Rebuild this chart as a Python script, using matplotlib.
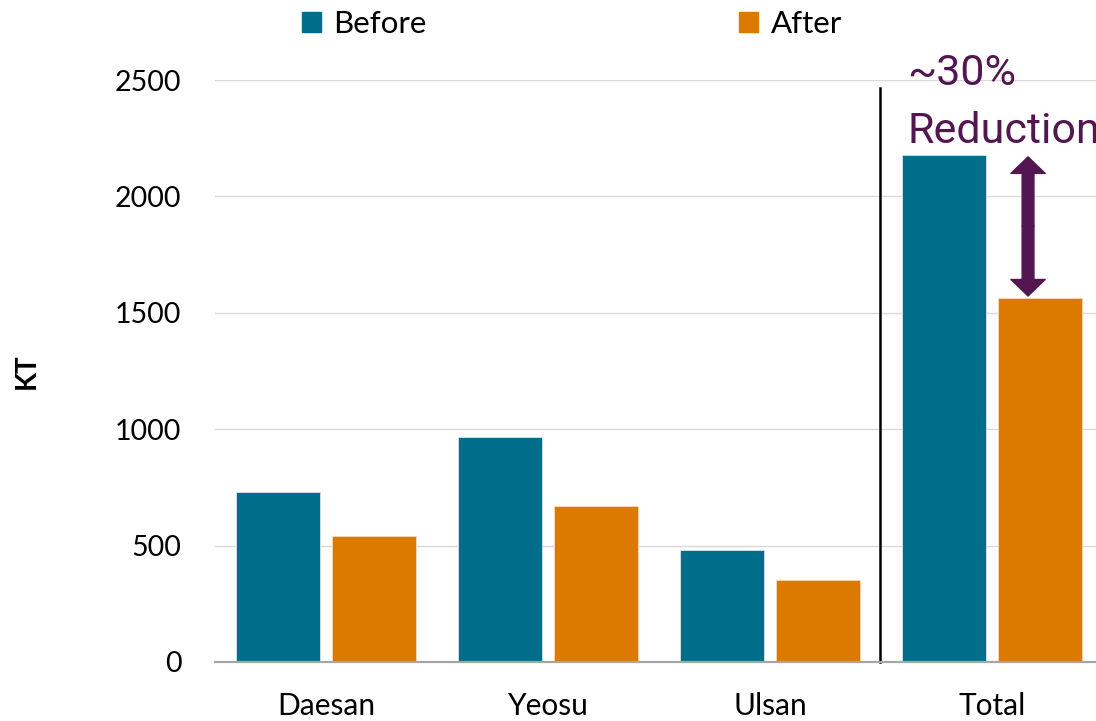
import numpy as np
import matplotlib.pyplot as plt
from matplotlib.patches import FancyArrowPatch, Patch

sites = ['Daesan', 'Yeosu', 'Ulsan', 'Total']
before = [730, 966, 480, 2178]
after = [541, 670, 351, 1564]

teal = '#006E8A'
orange = '#DC7A00'
purple = '#531651'

plt.rcParams['font.family'] = ['Lato', 'DejaVu Sans']

fig = plt.figure(figsize=(10.96, 7.21), dpi=100)
ax = fig.add_axes([0.196, 0.082, 0.804, 0.807])

x = np.arange(len(sites))
w = 0.378
off = 0.216
ax.bar(x - off, before, w, color=teal, edgecolor='#d6e6ea', linewidth=0.6, zorder=3)
ax.bar(x + off, after, w, color=orange, edgecolor='#f5d9b8', linewidth=0.6, zorder=3)

ax.set_xlim(-0.5, 3.468)
ax.set_ylim(0, 2500)
ax.set_yticks(np.arange(0, 2501, 500))
ax.set_xticks(x)
ax.set_xticklabels(sites, fontsize=21.5)
ax.tick_params(axis='y', labelsize=20.5, length=0, pad=24)
ax.tick_params(axis='x', length=0, pad=22)
ax.grid(axis='y', color='#d9d9d9', linewidth=1, zorder=0)
for s in ['top', 'right', 'left']:
    ax.spines[s].set_visible(False)
ax.spines['bottom'].set_color('#a6a6a6')
ax.spines['bottom'].set_linewidth(1.6)
ax.spines['bottom'].set_zorder(4)
ax.set_ylabel('KT', fontsize=20, fontweight='bold', labelpad=54)

# separator between the sites and the total
ax.plot([2.495, 2.495], [0, 2466], color='black', linewidth=1.8, zorder=4, clip_on=False)

# reduction arrow on the total
xa = 3 + 0.162
mid = (before[3] + after[3]) / 2
for end in (before[3] - 8, after[3] + 8):
    ax.add_patch(FancyArrowPatch((xa, mid), (xa, end),
                                 arrowstyle='simple,head_length=0.7,head_width=1.45,tail_width=0.5',
                                 mutation_scale=17, color=purple, shrinkA=0, shrinkB=0, zorder=5))
ax.text(2.617, 2479, '~30%', fontsize=31, color=purple, family='Roboto', va='baseline', clip_on=False)
ax.text(2.617, 2229, 'Reduction', fontsize=31, color=purple, family='Roboto', va='baseline', clip_on=False)

handles = [Patch(color=teal, label='Before'), Patch(color=orange, label='After')]
fig.legend(handles=handles, loc='upper center', bbox_to_anchor=(0.522, 1.025), ncol=2,
           frameon=False, fontsize=22.5, handlelength=0.6, handleheight=0.6,
           handletextpad=0.4, columnspacing=10.0)

fig.savefig('out.png', dpi=100)
